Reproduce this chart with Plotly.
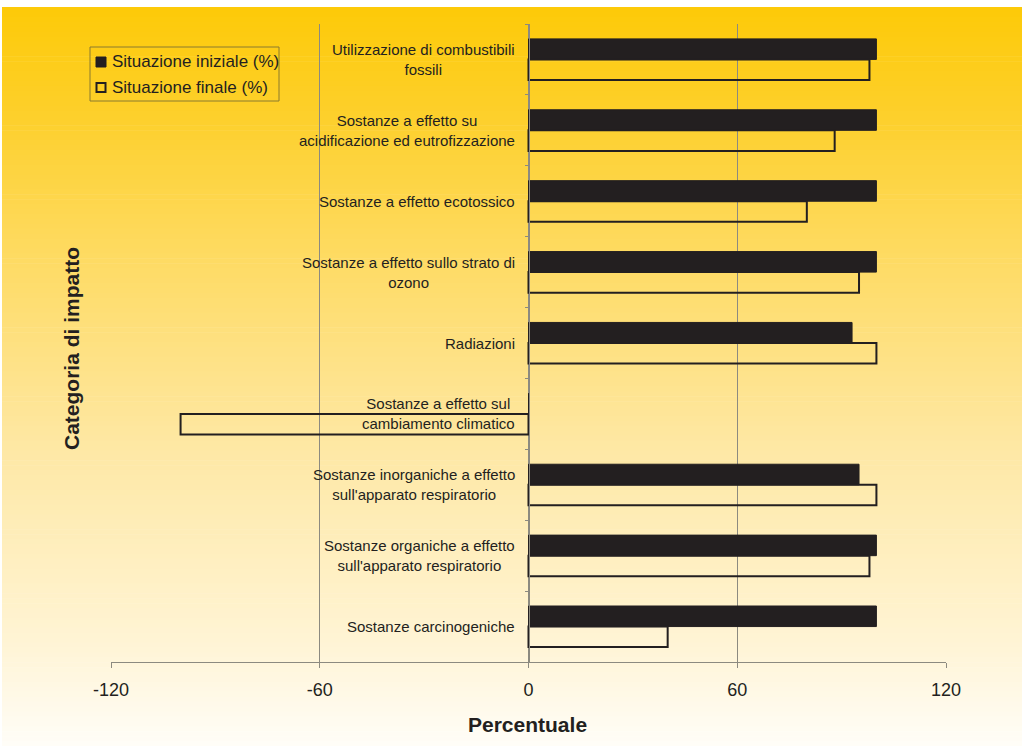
import plotly.graph_objects as go

# Impact categories (top to bottom) and percentages
categorie = [
    "Utilizzazione di combustibili<br>fossili",
    "Sostanze a effetto su<br>acidificazione ed eutrofizzazione",
    "Sostanze a effetto ecotossico",
    "Sostanze a effetto sullo strato di<br>ozono",
    "Radiazioni",
    "Sostanze a effetto sul<br>cambiamento climatico",
    "Sostanze inorganiche a effetto<br>sull'apparato respiratorio",
    "Sostanze organiche a effetto<br>sull'apparato respiratorio",
    "Sostanze carcinogeniche",
]
situazione_iniziale = [100, 100, 100, 100, 93, 0, 95, 100, 100]
situazione_finale = [98, 88, 80, 95, 100, -100, 100, 98, 40]
serie_nomi = ["Situazione iniziale (%)", "Situazione finale (%)"]
x_ticks = [-120, -60, 0, 60, 120]

W, H = 1022, 746
M_L, M_R, M_T, M_B = 111, 76, 24, 84
PW, PH = W - M_L - M_R, H - M_T - M_B
TEXT = "#231F20"
GRID = "#8C8A80"
FONT = "Liberation Sans, Arial, sans-serif"


def px_to_paper_x(px):
    return (px - M_L) / PW


def px_to_paper_y(py):
    return (H - M_B - py) / PH


# Vertical yellow-to-cream background gradient built from thin strips
stops = [
    (7, (253, 202, 8)),
    (120, (253, 208, 45)),
    (260, (254, 219, 100)),
    (450, (254, 232, 165)),
    (640, (255, 244, 212)),
    (746, (255, 253, 248)),
]


def grad_color(py):
    for (y0, c0), (y1, c1) in zip(stops[:-1], stops[1:]):
        if y0 <= py <= y1:
            t = (py - y0) / (y1 - y0)
            return "rgb(%d,%d,%d)" % tuple(round(a + (b - a) * t) for a, b in zip(c0, c1))
    return "rgb(%d,%d,%d)" % stops[-1][1]


def paper_rect(x0, y0, x1, y1, **kw):
    return dict(type="rect", xref="paper", yref="paper",
                x0=px_to_paper_x(x0), x1=px_to_paper_x(x1),
                y0=px_to_paper_y(y1), y1=px_to_paper_y(y0), **kw)


shapes = []
n_strips = 150
top, bottom = 7, H
step = (bottom - top) / n_strips
for i in range(n_strips):
    y0 = top + i * step
    y1 = min(bottom, y0 + step + 0.6)
    shapes.append(paper_rect(2, y0, W, y1, layer="below",
                             fillcolor=grad_color(y0 + step / 2), line=dict(width=0)))

# Hand-drawn legend box with square swatches
shapes.append(paper_rect(90, 47, 279, 101, layer="above",
                         fillcolor="rgba(0,0,0,0)", line=dict(color="#8A7A2E", width=1)))
shapes.append(paper_rect(96, 57, 106, 67, layer="above",
                         fillcolor=TEXT, line=dict(color=TEXT, width=1)))
shapes.append(paper_rect(96.5, 83, 105.5, 92, layer="above",
                         fillcolor="rgba(0,0,0,0)", line=dict(color=TEXT, width=2)))

fig = go.Figure()
fig.add_trace(go.Bar(
    y=categorie, x=situazione_iniziale, orientation="h",
    name=serie_nomi[0],
    marker=dict(color=TEXT, line=dict(color=TEXT, width=1)),
))
fig.add_trace(go.Bar(
    y=categorie, x=situazione_finale, orientation="h",
    name=serie_nomi[1],
    marker=dict(color="rgba(0,0,0,0)", line=dict(color=TEXT, width=2)),
))

annotations = []
for cat in categorie:
    annotations.append(dict(
        x=0, y=cat, xref="x", yref="y", text=cat, showarrow=False,
        xanchor="right", yanchor="middle", align="center", xshift=-12,
        font=dict(family=FONT, size=15, color=TEXT),
    ))
for nome, py in zip(serie_nomi, [62, 88]):
    annotations.append(dict(
        x=px_to_paper_x(110), y=px_to_paper_y(py), xref="paper", yref="paper",
        text=nome, showarrow=False, xanchor="left", yanchor="middle",
        font=dict(family=FONT, size=17, color=TEXT),
    ))
annotations.append(dict(
    x=px_to_paper_x(72), y=px_to_paper_y(349), xref="paper", yref="paper",
    text="<b>Categoria di impatto</b>", textangle=-90, showarrow=False,
    xanchor="center", yanchor="middle",
    font=dict(family=FONT, size=21, color=TEXT),
))
annotations.append(dict(
    x=px_to_paper_x(527), y=px_to_paper_y(724), xref="paper", yref="paper",
    text="<b>Percentuale</b>", showarrow=False,
    xanchor="center", yanchor="middle",
    font=dict(family=FONT, size=21, color=TEXT),
))

fig.update_layout(
    width=W, height=H,
    margin=dict(l=M_L, r=M_R, t=M_T, b=M_B),
    paper_bgcolor="white",
    plot_bgcolor="rgba(0,0,0,0)",
    barmode="group",
    bargap=0.42,
    bargroupgap=0,
    shapes=shapes,
    annotations=annotations,
    font=dict(family=FONT, color=TEXT),
    showlegend=False,
)
fig.update_xaxes(
    range=[-120, 120], tickvals=x_ticks, ticktext=[str(v) for v in x_ticks],
    showgrid=True, gridcolor=GRID, gridwidth=1, zeroline=False,
    showline=True, linecolor=GRID, linewidth=1,
    ticks="outside", ticklen=5, tickcolor=GRID,
    ticklabelstandoff=6,
    tickfont=dict(size=18, color=TEXT),
    domain=[0, 1],
)
fig.update_yaxes(
    autorange="reversed", showgrid=False, zeroline=False,
    showticklabels=False, anchor="free", position=0.5,
    showline=True, linecolor=GRID, linewidth=1,
    ticks="outside", ticklen=4, tickcolor=GRID, tickson="boundaries",
)

fig.write_html("out.html")
